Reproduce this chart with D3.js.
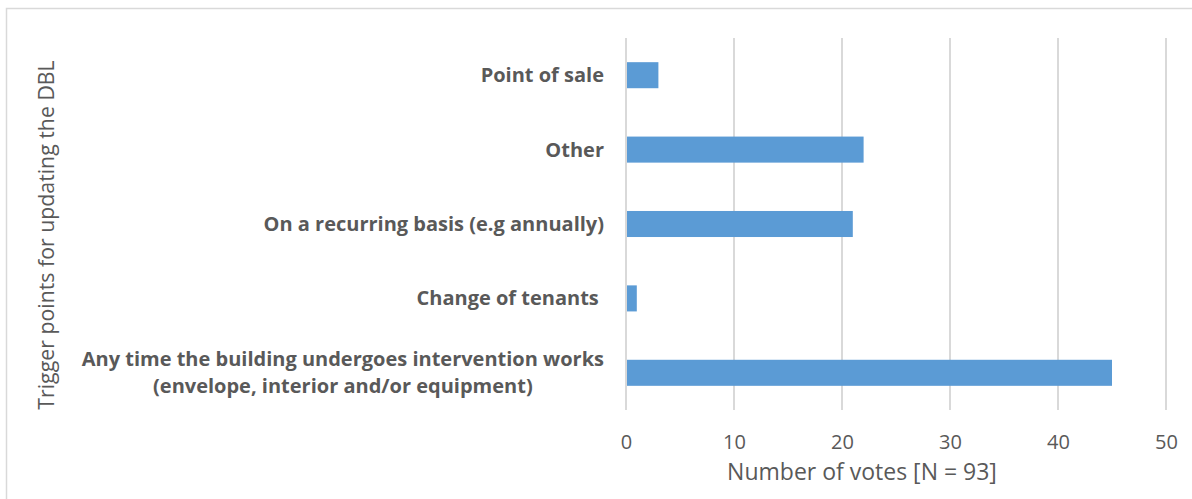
<!DOCTYPE html>
<html lang="en">
<head>
<meta charset="UTF-8">
<title>Trigger points for updating the DBL</title>
<style>
  body { margin: 0; background: #fff; }
  svg text { font-family: "Open Sans", sans-serif; fill: #595959; }
  .cat { font-weight: bold; font-size: 20px; white-space: pre; }
  .tick text { font-size: 20px; }
  .xttl { font-size: 23px; }
  .yttl { font-size: 21.3px; }
</style>
<script src="https://d3js.org/d3.v7.min.js"></script>
</head>
<body>
<script>
// categories, top to bottom
var categories = [
  ["Point of sale"],
  ["Other"],
  ["On a recurring basis (e.g annually)"],
  ["Change of tenants "],
  ["Any time the building undergoes intervention works", "(envelope, interior and/or equipment)"]
];
var votes = [3, 22, 21, 1, 45];
var xTicks = [0, 10, 20, 30, 40, 50];
var xTitle = "Number of votes [N = 93]";
var yTitle = "Trigger points for updating the DBL";

var W = 1192, H = 499;
var m = {top: 38, left: 626, right: 26, bottom: 89};

var svg = d3.select("body").append("svg")
  .attr("width", W).attr("height", H);

// chart border (runs off the right/bottom edge)
svg.append("rect")
  .attr("x", 6.5).attr("y", 8.5)
  .attr("width", W + 10).attr("height", H + 10)
  .attr("fill", "none").attr("stroke", "#d9d9d9").attr("stroke-width", 1.5);

var x = d3.scaleLinear().domain([0, 50]).range([m.left, W - m.right]);
var y = d3.scaleBand().domain(d3.range(categories.length))
  .range([m.top, H - m.bottom]).paddingInner(0.65).paddingOuter(0.325);

// grid
svg.append("g").selectAll("line").data(xTicks).join("line")
  .attr("x1", d => x(d)).attr("x2", d => x(d))
  .attr("y1", m.top).attr("y2", H - m.bottom)
  .attr("stroke", "#d9d9d9").attr("stroke-width", 2);

// bars
svg.append("g").selectAll("rect").data(votes).join("rect")
  .attr("x", x(0) + 1)
  .attr("y", (d, i) => y(i))
  .attr("width", d => x(d) - x(0) - 1)
  .attr("height", y.bandwidth())
  .attr("fill", "#5b9bd5");

// x axis
var xa = svg.append("g")
  .attr("transform", "translate(0," + (H - m.bottom) + ")")
  .call(d3.axisBottom(x).tickValues(xTicks).tickSize(0).tickPadding(25));
xa.select(".domain").remove();
xa.selectAll("text").attr("fill", "#595959").style("font-family", null);

// category labels, right aligned next to the axis
var lab = svg.append("g").selectAll("text").data(categories).join("text")
  .attr("class", "cat")
  .attr("text-anchor", "middle")
  .attr("transform", (d, i) => "translate(0," + (y(i) + y.bandwidth() / 2) + ")");
lab.each(function(lines) {
  var t = d3.select(this);
  lines.forEach(function(s, k) {
    t.append("tspan").attr("x", 0)
      .attr("dy", k === 0 ? (7 - (lines.length - 1) * 13.5) : 27).text(s);
  });
  var bw = this.getComputedTextLength ? d3.max(lines.map(function(s, k) {
    return t.selectAll("tspan").nodes()[k].getComputedTextLength();
  })) : this.getBBox().width;
  t.attr("transform", t.attr("transform") + " translate(" + (604 - bw / 2) + ",0)");
});

// titles
svg.append("text").attr("class", "xttl")
  .attr("x", 862).attr("y", 480).attr("text-anchor", "middle").text(xTitle);
svg.append("text").attr("class", "yttl")
  .attr("transform", "translate(54,235) rotate(-90)")
  .attr("text-anchor", "middle").text(yTitle);
</script>
</body>
</html>
